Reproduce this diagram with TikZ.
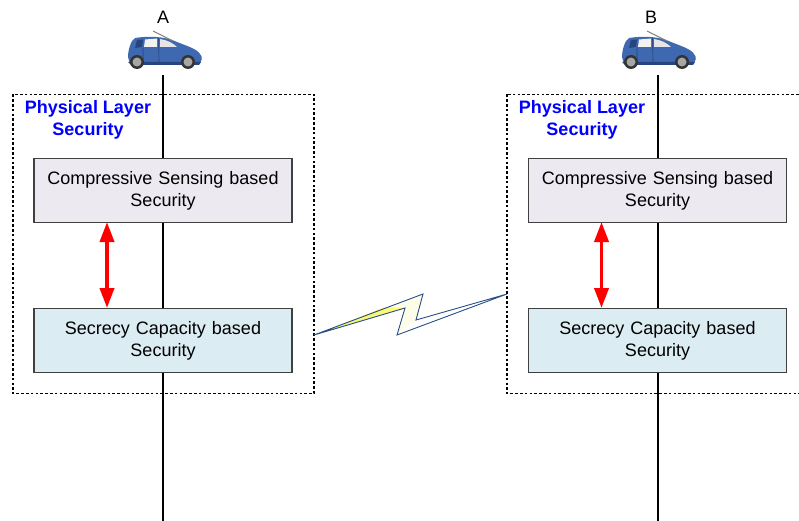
\documentclass[tikz,border=0pt]{standalone}
\usepackage{fontspec}
\setmainfont{Liberation Sans}
\usetikzlibrary{arrows.meta,shapes.geometric}
\definecolor{boxgrey}{RGB}{236,233,241}
\definecolor{boxblue}{RGB}{219,236,243}
\definecolor{carblue}{RGB}{62,104,176}
\definecolor{cardark}{RGB}{38,68,125}
\definecolor{boltblue}{RGB}{38,78,135}
\definecolor{boltyellow}{RGB}{250,248,120}
\definecolor{boltpale}{RGB}{254,254,232}
\tikzset{
  x=1pt,y=-1pt,
  every node/.style={font=\fontsize{18}{22}\selectfont,text=black},
  secbox/.style={draw=black!75,line width=1.2pt,minimum width=258pt,minimum height=64pt,inner sep=0pt,align=center,text width=250pt},
  groupbox/.style={draw=black,line width=1.6pt,dash pattern=on 2.6pt off 2.2pt},
  stack/.style={draw=black,line width=2pt},
  link/.style={draw=red,line width=3.8pt,{Triangle[length=20pt,width=14pt]}-{Triangle[length=20pt,width=14pt]},shorten <=-1pt,shorten >=-1pt},
  headline/.style={font=\fontsize{18}{22}\selectfont\bfseries,text=blue,align=center},
  car/.pic={
    \fill[carblue] (1,-5) .. controls (1,-12) and (4,-22) .. (8,-24)
      .. controls (20,-26) and (38,-26) .. (50,-20) .. controls (60,-16) and (70,-13) .. (73,-8)
      .. controls (76,-5) and (75,-1) .. (72,2) -- (3,2) -- cycle;
    \fill[cardark] (1,0) -- (74,0) -- (72,3) -- (4,3) -- cycle;
    \fill[cardark] (10,-22) -- (16,-22.5) -- (15,-15) -- (8,-14) -- cycle;
    \fill[black!5] (18,-22.5) -- (30,-23.5) -- (30,-15) -- (17,-15) -- cycle;
    \fill[blue!10!black!10] (33,-23) .. controls (40,-22) and (46,-19) .. (50,-15) -- (33,-15) -- cycle;
    \draw[gray,line width=1pt] (26,-31) -- (46,-21);
    \draw[cardark,line width=0.6pt] (31.5,-24) -- (32,0) (16,-14) -- (16,-1);
    \fill[black!80] (10,0) circle[radius=7] (61,0) circle[radius=7];
    \fill[black!35] (10,0) circle[radius=4.5] (61,0) circle[radius=4.5];
  }
}
\begin{document}
\begin{tikzpicture}
\useasboundingbox (0,0) rectangle (799,521);
\coordinate (topA) at (163,75); \coordinate (botA) at (163,521);
\coordinate (topB) at (658,75); \coordinate (botB) at (658,521);
\draw[stack] (topA) -- (botA);
\draw[stack] (topB) -- (botB);
\draw[groupbox] (13,94.5) rectangle (314,393.5);
\draw[groupbox] (507,94.5) rectangle (805,393.5);
\node[headline] (plsA) at (88,120) {Physical Layer\\Security};
\node[headline] (plsB) at (582,120) {Physical Layer\\Security};
\node[secbox,fill=boxgrey] (csA) at (163,190.5) {Compressive Sensing based\\Security};
\node[secbox,fill=boxblue] (scA) at (163,340.5) {Secrecy Capacity based\\Security};
\node[secbox,fill=boxgrey] (csB) at (657.5,190.5) {Compressive Sensing based\\Security};
\node[secbox,fill=boxblue] (scB) at (657.5,340.5) {Secrecy Capacity based\\Security};
\draw[link] (107,223) -- (107,307);
\draw[link] (601.5,223) -- (601.5,307);
\node (lA) at (163,17) {A};
\node (lB) at (651,17) {B};
\pic at (127,62) {car};
\pic at (621,62) {car};
\fill[boltpale] (423,294) -- (416,320) -- (397,335) -- (405,308) -- (314,335) -- cycle;
\fill[boltyellow] (314,335) -- (405,308) -- (385,307) -- cycle;
\draw[boltblue,line width=0.9pt,line join=miter] (314,335) -- (423,294) -- (416,320) -- (507,294) -- (397,335) -- (405,308) -- cycle;
\end{tikzpicture}
\end{document}
